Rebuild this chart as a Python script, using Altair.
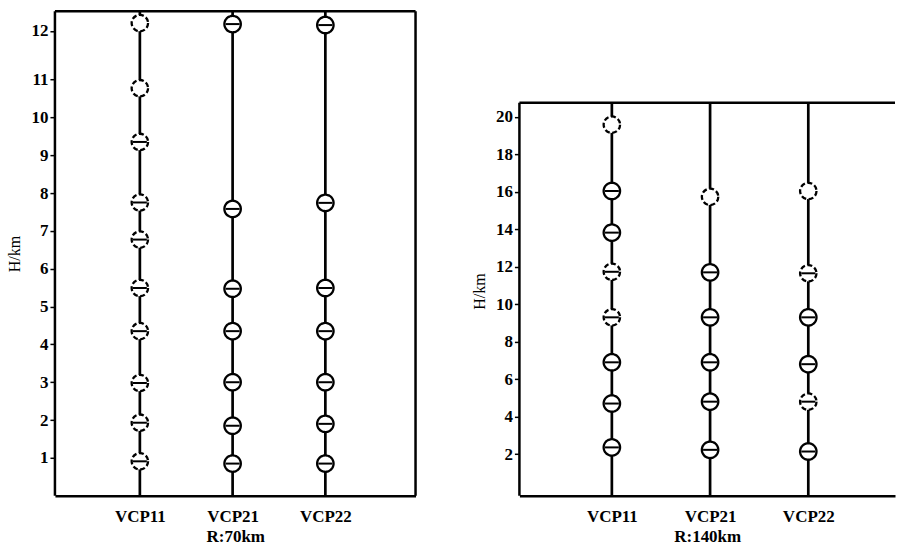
import altair as alt
import pandas as pd

cats = ["VCP11", "VCP21", "VCP22"]

# R = 70 km  (heights in km, marker type)
h70_vcp11 = [12.16, 10.77, 9.35, 7.75, 6.77, 5.49, 4.35, 2.98, 1.93, 0.91]
t70_vcp11 = ["empty", "empty", "partial", "partial", "partial", "partial", "partial", "partial", "partial", "partial"]
h70_vcp21 = [12.14, 7.58, 5.47, 4.35, 3.0, 1.85, 0.85]
t70_vcp21 = ["full"] * 7
h70_vcp22 = [12.12, 7.74, 5.49, 4.35, 3.0, 1.9, 0.85]
t70_vcp22 = ["full"] * 7

# R = 140 km
h140_vcp11 = [19.58, 16.04, 13.82, 11.73, 9.3, 6.9, 4.7, 2.36]
t140_vcp11 = ["empty", "full", "full", "partial", "partial", "full", "full", "full"]
h140_vcp21 = [15.73, 11.7, 9.3, 6.9, 4.8, 2.23]
t140_vcp21 = ["empty", "full", "full", "full", "full", "full"]
h140_vcp22 = [16.04, 11.65, 9.3, 6.8, 4.8, 2.14]
t140_vcp22 = ["empty", "partial", "full", "full", "partial", "full"]

ticks70 = list(range(1, 13))
ticks140 = list(range(2, 21, 2))

span70 = [0, 12.4]          # frame extent, left panel
span140 = [-0.22, 20.75]    # frame extent, right panel

FONT = "Liberation Serif"


def build_points(hs, ts):
    rows = []
    for c, h, t in zip(cats, hs, ts):
        for hv, tv in zip(h, t):
            rows.append({"cat": c, "h": hv, "type": tv})
    return pd.DataFrame(rows)


def panel(df, span, yscale, yticks, width, height, xpad, xalign, xtitle, titleY=None):
    lines = pd.DataFrame({"cat": cats, "lo": [span[0]] * 3, "hi": [span[1]] * 3})
    frame = pd.DataFrame({"lo": [span[0]], "hi": [span[1]]})

    xsc = alt.Scale(type="point", domain=cats, padding=xpad, align=xalign)
    xax = alt.Axis(title=xtitle, ticks=False, labelAngle=0, labelPadding=13,
                   titlePadding=4, domain=True, domainColor="black", domainWidth=2.5,
                   labelFont=FONT, labelFontSize=17, labelFontWeight="bold", labelColor="black",
                   titleFont=FONT, titleFontSize=17, titleFontWeight="bold", titleColor="black",
                   grid=False)
    yax_kw = dict(title="H/km", values=yticks, tickSize=5, tickWidth=1.5, tickColor="black",
                  labelPadding=2, domain=False, grid=False,
                  labelFont=FONT, labelFontSize=17, labelFontWeight="bold", labelColor="black",
                  titleFont=FONT, titleFontSize=16, titleFontWeight="normal", titleColor="black",
                  titlePadding=8)
    if titleY is not None:
        yax_kw["titleY"] = titleY
    yax = alt.Axis(**yax_kw)

    rules = alt.Chart(lines).mark_rule(color="black", strokeWidth=2.7).encode(
        x=alt.X("cat:N", scale=xsc, axis=xax),
        y=alt.Y("lo:Q", scale=yscale, axis=yax),
        y2="hi:Q",
    )
    circles = alt.Chart(df).mark_point(
        shape="circle", filled=True, fill="white", stroke="black",
        strokeWidth=2.3, size=270, opacity=1
    ).encode(
        x=alt.X("cat:N", scale=xsc, axis=xax),
        y=alt.Y("h:Q", scale=yscale, axis=yax),
        strokeDash=alt.StrokeDash(
            "type:N",
            scale=alt.Scale(domain=["full", "partial", "empty"], range=[[1, 0], [5, 2.5], [5, 2.5]]),
            legend=None,
        ),
    )
    bars = alt.Chart(df).transform_filter(alt.datum.type != "empty").mark_tick(
        color="black", size=14, thickness=2, orient="horizontal", opacity=1
    ).encode(
        x=alt.X("cat:N", scale=xsc, axis=xax),
        y=alt.Y("h:Q", scale=yscale, axis=yax),
    )
    left_edge = alt.Chart(frame).mark_rule(color="black", strokeWidth=2.5).encode(
        x=alt.value(0),
        y=alt.Y("lo:Q", scale=yscale, axis=yax),
        y2="hi:Q",
    )
    top_edge = alt.Chart(frame).mark_rule(color="black", strokeWidth=2.5).encode(
        x=alt.value(0), x2=alt.value(width),
        y=alt.Y("hi:Q", scale=yscale, axis=yax),
    )
    layers = [rules, circles, bars, left_edge, top_edge]
    return layers


# left panel
df70 = build_points([h70_vcp11, h70_vcp21, h70_vcp22], [t70_vcp11, t70_vcp21, t70_vcp22])
W1, H = 361, 485
ysc70 = alt.Scale(domain=[0, 11, 12, 12.4], range=[H, 68.3, 19.7, 0], nice=False, zero=False)
layers70 = panel(df70, span70, ysc70, ticks70, W1, H, 0.944, 0.485, "R:70km")
frame70 = pd.DataFrame({"lo": [span70[0]], "hi": [span70[1]]})
right_edge70 = alt.Chart(frame70).mark_rule(color="black", strokeWidth=2.5).encode(
    x=alt.value(W1),
    y=alt.Y("lo:Q", scale=ysc70),
    y2="hi:Q",
)
left_chart = alt.layer(*layers70, right_edge70).properties(width=W1, height=H)

# right panel
df140 = build_points([h140_vcp11, h140_vcp21, h140_vcp22], [t140_vcp11, t140_vcp21, t140_vcp22])
W2 = 376
ysc140 = alt.Scale(domain=[-0.22, 25.63], nice=False, zero=False)
layers140 = panel(df140, span140, ysc140, ticks140, W2, H, 0.912, 0.516, "R:140km", titleY=280)
right_chart = alt.layer(*layers140).properties(width=W2, height=H)

chart = alt.hconcat(left_chart, right_chart, spacing=54).properties(
    padding={"left": 7, "top": 9, "right": 0, "bottom": 0},
    background="white",
).configure_view(strokeWidth=0)

chart.save("out.html", embed_options={"renderer": "svg", "actions": False})
